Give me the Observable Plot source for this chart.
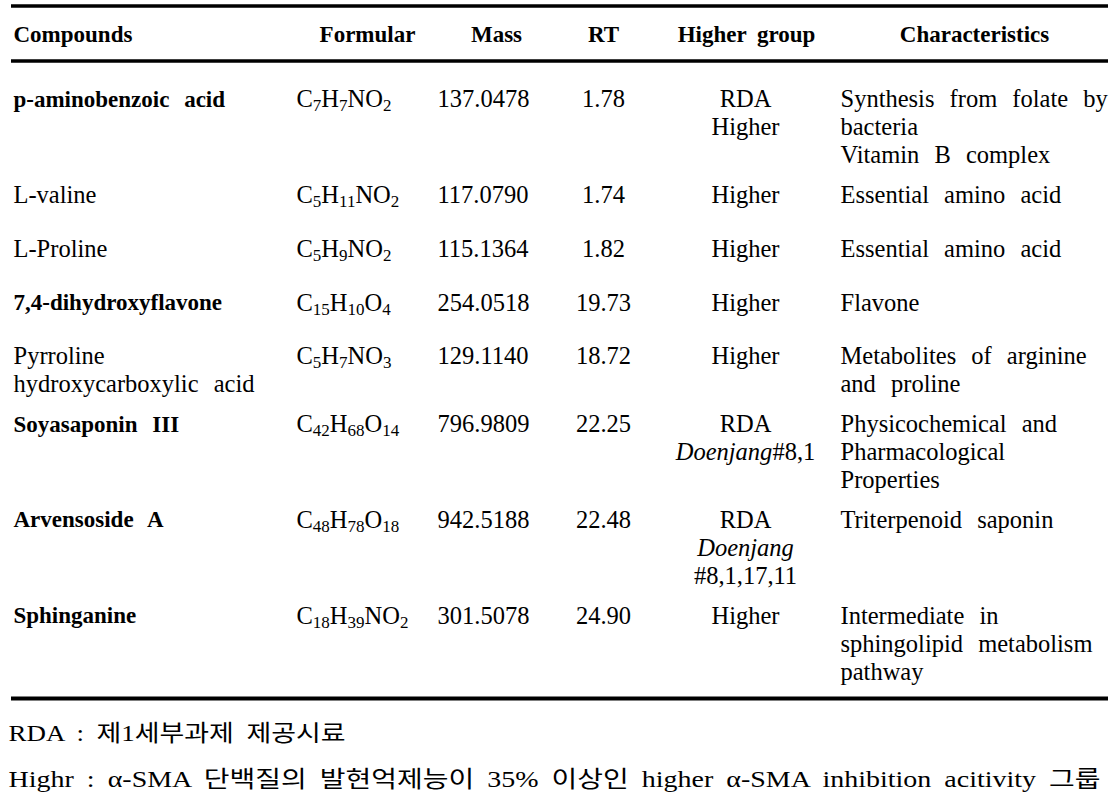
<!DOCTYPE html>
<html><head><meta charset="utf-8">
<script src="https://cdn.jsdelivr.net/npm/d3@7"></script>
<script src="https://cdn.jsdelivr.net/npm/@observablehq/plot@0.6"></script>
<style>
html,body{margin:0;padding:0;background:#fff;}
#chart svg{display:block;}
#chart svg text{font-family:"Liberation Serif","Noto Sans CJK KR",serif;}
</style>
</head><body><div id="chart"></div>
<script>
// ---------- data ----------
const headers = ["Compounds", "Formular", "Mass", "RT", "Higher group", "Characteristics"];
const compounds = ["p-aminobenzoic acid", "L-valine", "L-Proline", "7,4-dihydroxyflavone",
  "Pyrroline\nhydroxycarboxylic acid", "Soyasaponin III", "Arvensoside A", "Sphinganine"];
const boldCompound = [true, false, false, true, false, true, true, true];
const formulas = ["C7H7NO2", "C5H11NO2", "C5H9NO2", "C15H10O4", "C5H7NO3", "C42H68O14", "C48H78O18", "C18H39NO2"];
const masses = [137.0478, 117.0790, 115.1364, 254.0518, 129.1140, 796.9809, 942.5188, 301.5078];
const retentionTimes = [1.78, 1.74, 1.82, 19.73, 18.72, 22.25, 22.48, 24.90];
const groups = ["RDA\nHigher", "Higher", "Higher", "Higher", "Higher",
  "RDA\n*Doenjang*#8,1", "RDA\n*Doenjang*\n#8,1,17,11", "Higher"];
const characteristics = ["Synthesis from folate by\nbacteria\nVitamin B complex",
  "Essential amino acid", "Essential amino acid", "Flavone",
  "Metabolites of arginine\nand proline", "Physicochemical and\nPharmacological\nProperties",
  "Triterpenoid saponin", "Intermediate in\nsphingolipid metabolism\npathway"];
const notes = ["RDA : 제1세부과제 제공시료",
  "Highr : α-SMA 단백질의 발현억제능이 35% 이상인 higher α-SMA inhibition acitivity 그룹"];

// ---------- layout (styles / positions, not data) ----------
const W = 1116, H = 800;
const LINE = 28;
const L = {topRule: 5.5, headerY: 34, headerRule: 60.5, firstRowY: 99,
  rowPad: 0.42, minLines: 1.5, ruleX1: 11, ruleX2: 1108,
  noteY: [733, 779], noteX: 8, noteWidth: [337, 1092]};
const cols = [
  {hx: 13, ha: "start", cx: 13, ca: "start"},
  {hx: 367, ha: "middle", cx: 296, ca: "start"},
  {hx: 496, ha: "middle", cx: 437, ca: "start"},
  {hx: 603, ha: "middle", cx: 603, ca: "middle"},
  {hx: 746, ha: "middle", cx: 745, ca: "middle"},
  {hx: 974, ha: "middle", cx: 840, ca: "start"}
];
const FONT = "'Liberation Serif', 'Noto Sans CJK KR', serif";

// ---------- build cells ----------
const cells = [];
let yCursor = L.firstRowY;
let lastRowY = 0, lastRowLines = 1;
compounds.forEach((c, i) => {
  const row = [c, formulas[i], masses[i].toFixed(4), retentionTimes[i].toFixed(2), groups[i], characteristics[i]];
  const split = row.map(s => s.split("\n"));
  const n = d3.max(split, s => s.length);
  split.forEach((lines, j) => lines.forEach((txt, k) => {
    cells.push({text: txt, x: cols[j].cx, y: yCursor + k * LINE, anchor: cols[j].ca,
      bold: j === 0 && boldCompound[i]});
  }));
  lastRowY = yCursor; lastRowLines = n;
  yCursor += (Math.max(n, L.minLines) + L.rowPad) * LINE;
});
const bottomRule = lastRowY + (lastRowLines - 1) * LINE + 0.95 * LINE;
const headerCells = headers.map((h, j) => ({text: h, x: cols[j].hx, y: L.headerY, anchor: cols[j].ha}));
const noteCells = notes.map((t, i) => ({text: t, x: L.noteX, y: L.noteY[i]}));

const textMark = (data, anchor, opts) => Plot.text(data.filter(d => d.anchor === anchor), {
  x: "x", y: "y", text: "text", textAnchor: anchor, lineAnchor: "middle",
  fill: "#000", fontFamily: FONT, ...opts});

const plot = Plot.plot({
  width: W, height: H,
  margin: 0,
  x: {domain: [0, W], range: [0, W], axis: null},
  y: {domain: [0, H], range: [0, H], axis: null},
  style: {background: "#fff", wordSpacing: "9px", overflow: "visible", fontFamily: FONT},
  marks: [
    Plot.ruleY([L.topRule], {x1: L.ruleX1, x2: L.ruleX2, stroke: "#000", strokeWidth: 3.4}),
    Plot.ruleY([L.headerRule], {x1: L.ruleX1, x2: L.ruleX2, stroke: "#000", strokeWidth: 3.4}),
    Plot.ruleY([bottomRule], {x1: L.ruleX1, x2: L.ruleX2, stroke: "#000", strokeWidth: 4}),
    textMark(headerCells, "start", {fontSize: 23, fontWeight: "bold"}),
    textMark(headerCells, "middle", {fontSize: 23, fontWeight: "bold"}),
    textMark(cells.filter(d => d.bold), "start", {fontSize: 23, fontWeight: "bold"}),
    textMark(cells.filter(d => !d.bold), "start", {fontSize: 24.5}),
    textMark(cells.filter(d => !d.bold), "middle", {fontSize: 24.5}),
    Plot.text(noteCells, {x: "x", y: "y", text: "text", textAnchor: "start", lineAnchor: "middle",
      fill: "#000", fontFamily: FONT, fontSize: 23})
  ]
});
document.getElementById("chart").append(plot);

// ---------- rich text post-processing (subscripts, italics, note widths) ----------
const SVGNS = "http://www.w3.org/2000/svg";
const formulaSet = new Set(formulas);
plot.querySelectorAll("text").forEach(t => {
  const s = t.textContent;
  if (headers.includes(s)) t.style.wordSpacing = "5px";
  if (formulaSet.has(s)) {
    t.textContent = "";
    const parts = s.match(/\d+|[^\d]+/g);
    let down = false;
    parts.forEach(p => {
      const sp = document.createElementNS(SVGNS, "tspan");
      sp.textContent = p;
      const isNum = /^\d+$/.test(p);
      if (isNum) { sp.setAttribute("font-size", "17"); if (!down) { sp.setAttribute("dy", "4"); down = true; } }
      else if (down) { sp.setAttribute("dy", "-4"); down = false; }
      t.appendChild(sp);
    });
  } else if (s.includes("*")) {
    t.textContent = "";
    s.split("*").forEach((p, k) => {
      if (!p) return;
      const sp = document.createElementNS(SVGNS, "tspan");
      sp.textContent = p;
      if (k % 2 === 1) sp.setAttribute("font-style", "italic");
      t.appendChild(sp);
    });
  } else {
    const ni = notes.indexOf(s);
    if (ni >= 0) {
      t.style.wordSpacing = "5px";
      t.setAttribute("textLength", L.noteWidth[ni]);
      t.setAttribute("lengthAdjust", "spacingAndGlyphs");
    }
  }
});
</script>
</body></html>
